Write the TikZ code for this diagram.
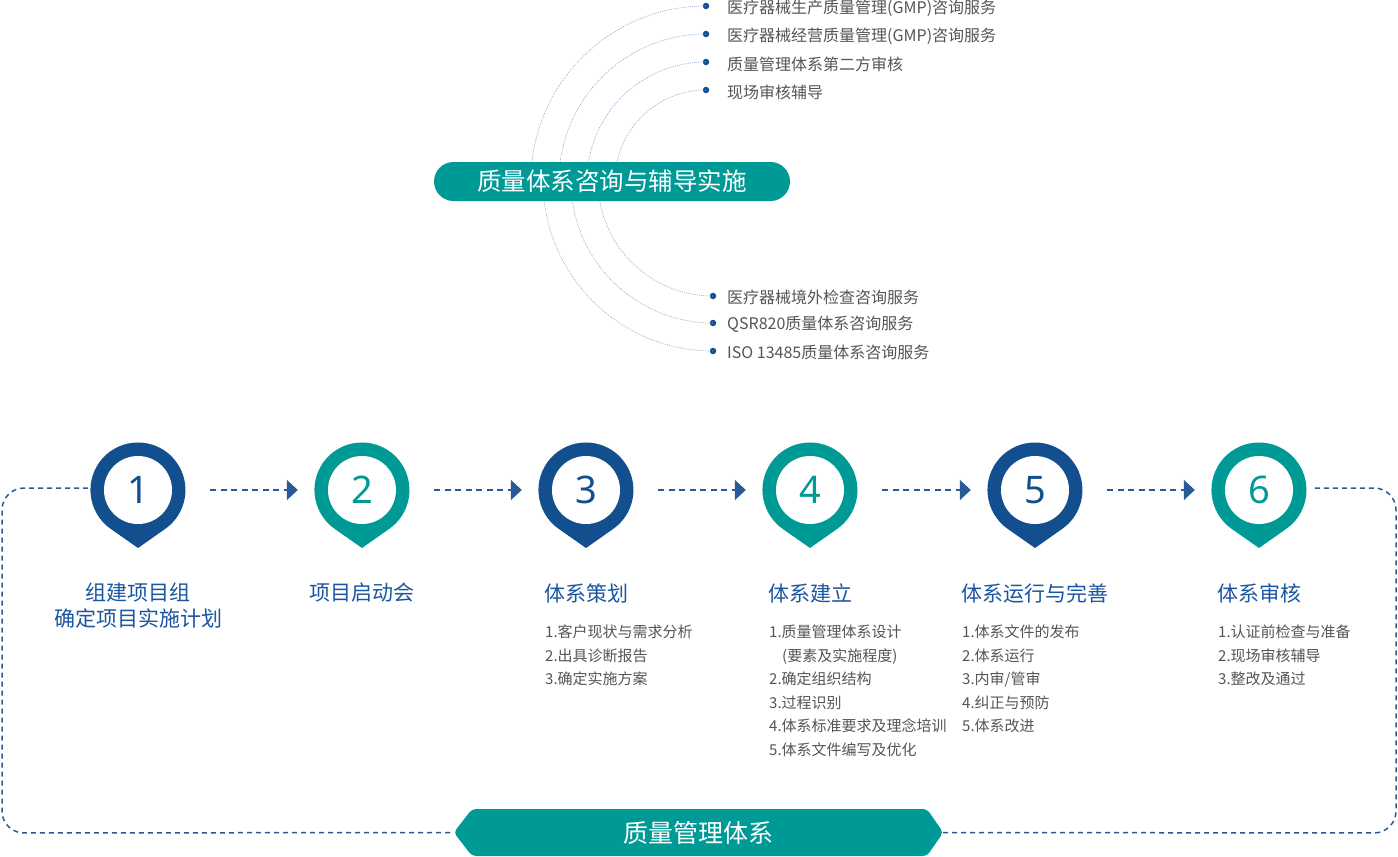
\documentclass[tikz,border=0pt]{standalone}
\usepackage{fontspec}
\setmainfont{Noto Sans CJK SC}
\newfontfamily\numfont{Noto Sans}
\usetikzlibrary{arrows.meta}
\definecolor{navy}{HTML}{134F8E}
\definecolor{tealc}{HTML}{009A96}
\definecolor{titleblue}{HTML}{1A55A0}
\definecolor{itemgray}{HTML}{555555}
\definecolor{dashblue}{HTML}{2A5A96}
\definecolor{arcblue}{HTML}{86A8D2}

% map-pin marker: coloured teardrop with a white hole holding the step number
\newcommand\pinmark[5]{%
  \fill[#4] (#2,#3) ++(0,-58) -- ++(27.2,19.1)
    arc[start angle=-55,end angle=235,radius=47.5] -- cycle;
  \node[pinhole,text=#4] (#1) at (#2,#3) {#5};
}

\tikzset{
  pinhole/.style={circle,fill=white,minimum size=68pt,inner sep=0pt,
    font=\numfont\fontsize{38}{38}\selectfont},
  bullet/.style={circle,fill=navy,minimum size=6.5pt,inner sep=0pt},
  service/.style={anchor=west,inner sep=0pt,text=itemgray,
    font=\fontsize{16}{16}\selectfont},
  arcline/.style={arcblue,line width=0.7pt,dash pattern=on 0.8pt off 1.1pt},
  steptitle/.style={text=titleblue,align=center,inner sep=0pt,
    font=\fontsize{21}{26}\selectfont},
  steplist/.style={anchor=north west,text=itemgray,align=left,inner sep=0pt,
    font=\fontsize{15}{23.5}\selectfont},
  flow/.style={dashblue,line width=1.8pt,dash pattern=on 6pt off 4.5pt,
    -{Triangle[length=11pt,width=20pt]},shorten <=38pt,shorten >=30pt},
  loop/.style={dashblue,line width=1.5pt,dash pattern=on 5pt off 4pt,
    rounded corners=22pt},
}

\begin{document}
\begin{tikzpicture}[x=1pt,y=1pt]
\useasboundingbox (0,0) rectangle (1398,-857);

% service arcs around the consulting pill
\node[bullet] (t1) at (706,-6) {};
\node[bullet] (t2) at (706,-34) {};
\node[bullet] (t3) at (706,-62) {};
\node[bullet] (t4) at (706,-90) {};
\node[bullet] (b1) at (713,-296) {};
\node[bullet] (b2) at (713,-323) {};
\node[bullet] (b3) at (713,-351) {};
\draw[arcline] (t1.center) arc[start angle=90,end angle=180,radius=175];
\draw[arcline] (t2.center) arc[start angle=90,end angle=180,radius=147];
\draw[arcline] (t3.center) arc[start angle=90,end angle=180,radius=119];
\draw[arcline] (t4.center) arc[start angle=90,end angle=180,radius=91];
\draw[arcline] (b1.center) arc[start angle=270,end angle=180,radius=115];
\draw[arcline] (b2.center) arc[start angle=270,end angle=180,radius=142];
\draw[arcline] (b3.center) arc[start angle=270,end angle=180,radius=170];

\node[service] (s1) at (727,-8) {医疗器械生产质量管理(GMP)咨询服务};
\node[service] (s2) at (727,-36) {医疗器械经营质量管理(GMP)咨询服务};
\node[service] (s3) at (727,-64) {质量管理体系第二方审核};
\node[service] (s4) at (727,-92) {现场审核辅导};
\node[service] (s5) at (727,-297) {医疗器械境外检查咨询服务};
\node[service] (s6) at (727,-324) {QSR820质量体系咨询服务};
\node[service] (s7) at (727,-352) {ISO 13485质量体系咨询服务};

\node[fill=tealc,text=white,rounded corners=19.5pt,minimum width=356pt,
  minimum height=39pt,inner sep=0pt,font=\fontsize{24.5}{24.5}\selectfont]
  (pill) at (612,-181.5) {质量体系咨询与辅导实施};

% process loop
\coordinate (loopL) at (88,-488);
\coordinate (loopR) at (1313,-488);
\node[text=white,inner sep=0pt,minimum width=489pt,minimum height=47pt,
  font=\fontsize{25}{25}\selectfont] (banner) at (698.5,-832.5) {\phantom{质}};
\fill[tealc,rounded corners=4pt] (banner.west) -- (472,-809) -- (927,-809)
  -- (banner.east) -- (927,-856) -- (472,-856) -- cycle;
\node[text=white,inner sep=0pt,font=\fontsize{25}{25}\selectfont]
  (bannertext) at (banner.center) {质量管理体系};
\draw[loop] (loopL) -- (2,-488) -- (2,-833) -- (banner.west);
\draw[loop] (banner.east) -- (1396,-833) -- (1396,-488) -- (loopR);

% steps
\pinmark{p1}{138}{-490}{navy}{1}
\pinmark{p2}{362}{-490}{tealc}{2}
\pinmark{p3}{586}{-490}{navy}{3}
\pinmark{p4}{810}{-490}{tealc}{4}
\pinmark{p5}{1035}{-490}{navy}{5}
\pinmark{p6}{1259}{-490}{tealc}{6}
\draw[flow] (p1.east) -- (p2.west);
\draw[flow] (p2.east) -- (p3.west);
\draw[flow] (p3.east) -- (p4.west);
\draw[flow] (p4.east) -- (p5.west);
\draw[flow] (p5.east) -- (p6.west);

\node[steptitle] (h1) at (138,-606) {组建项目组\\确定项目实施计划};
\node[steptitle] (h2) at (362,-593) {项目启动会};
\node[steptitle] (h3) at (586,-593) {体系策划};
\node[steptitle] (h4) at (810,-593) {体系建立};
\node[steptitle] (h5) at (1035,-593) {体系运行与完善};
\node[steptitle] (h6) at (1259,-593) {体系审核};

\node[steplist] (l3) at (545,-625) {1.客户现状与需求分析\\2.出具诊断报告\\3.确定实施方案};
\node[steplist] (l4) at (769,-625) {1.质量管理体系设计\\\hspace*{13pt}(要素及实施程度)\\2.确定组织结构\\3.过程识别\\4.体系标准要求及理念培训\\5.体系文件编写及优化};
\node[steplist] (l5) at (962,-625) {1.体系文件的发布\\2.体系运行\\3.内审/管审\\4.纠正与预防\\5.体系改进};
\node[steplist] (l6) at (1218,-625) {1.认证前检查与准备\\2.现场审核辅导\\3.整改及通过};
\end{tikzpicture}
\end{document}
